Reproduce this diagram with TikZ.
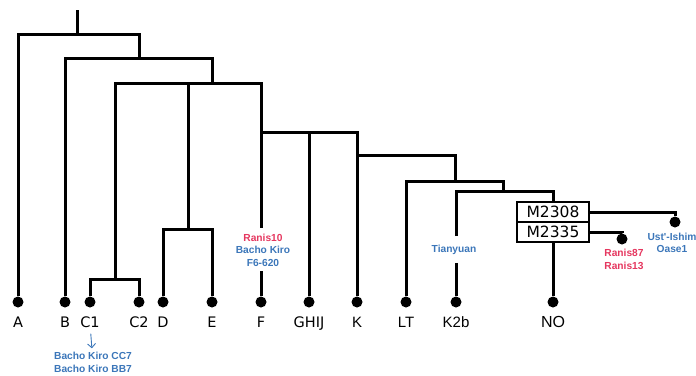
\documentclass[tikz,border=0pt]{standalone}
\usepackage{fontspec}
\setmainfont{DejaVu Sans}
\newfontfamily\arialfont{Liberation Sans}
\usetikzlibrary{positioning,arrows.meta}
\definecolor{ranisred}{HTML}{E5375F}
\definecolor{sampleblue}{HTML}{3B76B9}

\begin{document}
\begin{tikzpicture}[x=1pt,y=-1pt,
  branch/.style={line width=3pt},
  leaf/.style={circle,fill=black,inner sep=0pt,minimum size=11pt},
  hap/.style={font=\fontsize{14.5}{14.5}\selectfont,text height=10pt,text depth=3pt,inner sep=1pt,below=8.5pt of #1},
  haparial/.style={font=\arialfont\fontsize{15}{15}\selectfont,text height=10pt,text depth=3pt,inner sep=1pt,below=8.5pt of #1},
  sample/.style={font=\arialfont\bfseries\fontsize{10.2}{12.5}\selectfont,align=center,inner sep=0pt},
  snp/.style={draw,line width=2.6pt,outer sep=0pt,inner sep=0pt,minimum width=72pt,minimum height=20pt,font=\fontsize{15.5}{15.5}\selectfont}]
\useasboundingbox (0,0) rectangle (696,375);

% junctions of the tree
\coordinate (top)  at (77,10);
\coordinate (n1)   at (77,34);
\coordinate (n2)   at (139,58);
\coordinate (n3)   at (212,83);
\coordinate (nC)   at (115,279);
\coordinate (nDE)  at (188,229);
\coordinate (nF)   at (261,132);
\coordinate (nK)   at (357,155);
\coordinate (nLT)  at (455,181);
\coordinate (nK2b) at (503,191);

% tips
\node[leaf] (A)    at (18,302)  {};
\node[leaf] (B)    at (65,302)  {};
\node[leaf] (C1)   at (90,302)  {};
\node[leaf] (C2)   at (139,302) {};
\node[leaf] (D)    at (163,302) {};
\node[leaf] (E)    at (212,302) {};
\node[leaf] (F)    at (261,302) {};
\node[leaf] (GHIJ) at (309,302) {};
\node[leaf] (K)    at (357,302) {};
\node[leaf] (LT)   at (406,302) {};
\node[leaf] (K2b)  at (456,302) {};
\node[leaf] (NO)   at (553,302) {};
\node[leaf] (ranis) at (622,239) {};
\node[leaf] (oase)  at (675,222) {};

\node[hap=A]    (Alab)    {A};
\node[hap=B]    (Blab)    {B};
\node[hap=C1]   (C1lab)   {C1};
\node[hap=C2]   (C2lab)   {C2};
\node[hap=D]    (Dlab)    {D};
\node[hap=E]    (Elab)    {E};
\node[hap=F]    (Flab)    {F};
\node[hap=GHIJ] (GHIJlab) {GHIJ};
\node[haparial=K]   (Klab)   {K};
\node[haparial=LT]  (LTlab)  {LT};
\node[haparial=K2b] (K2blab) {K2b};
\node[haparial=NO,font=\arialfont\fontsize{16}{16}\selectfont] (NOlab) {NO};

% SNP boxes
\node[snp] (m2308) at (553,212) {M2308};
\node[snp,below=0pt of m2308] (m2335) {M2335};

% ancient samples
\node[sample] (fsamp) at (263,250) {\textcolor{ranisred}{Ranis10}\\\textcolor{sampleblue}{Bacho Kiro}\\\textcolor{sampleblue}{F6-620}};
\node[sample,text=sampleblue] (tian) at (454,250) {Tianyuan};
\node[sample,text=ranisred] (ranislab) at (624,259.5) {Ranis87\\Ranis13};
\node[sample,text=sampleblue] (oaselab) at (672,243) {Ust'-Ishim\\Oase1};
\node[sample,text=sampleblue] (bkC) at (93,362.5) {Bacho Kiro CC7\\Bacho Kiro BB7};
\draw[-{Straight Barb[length=4pt,width=8pt]},sampleblue,line width=0.9pt,shorten <=2pt,shorten >=4pt] (C1lab) -- (bkC);

% branches
\draw[branch] (top) -- (n1);
\draw[branch] (A) |- (n1) -| (n2);
\draw[branch] (B) |- (n2) -| (n3);
\draw[branch] (nC) |- (n3) -| (nF);
\draw[branch] (nDE) -- (nDE |- n3);
\draw[branch] (C1) |- (nC) -| (C2);
\draw[branch] (D) |- (nDE) -| (E);
\draw[branch] (nF) -- ([yshift=6pt]fsamp.north -| nF);
\draw[branch] ([yshift=-5pt]fsamp.south -| F) -- (F);
\draw[branch] (nF) -| (K);
\draw[branch] (GHIJ) -- (GHIJ |- nF);
\draw[branch] (nK) -| (nLT);
\draw[branch] (LT) |- (nLT) -| (nK2b);
\draw[branch] ([yshift=9pt]tian.north -| K2b) |- (nK2b) -| (m2308.north);
\draw[branch] ([yshift=-8pt]tian.south -| K2b) -- (K2b);
\draw[branch] (m2335.south) -- (NO);
\draw[branch] (m2308.east) -| (oase);
\draw[branch] (m2335.east) -| (ranis);
\end{tikzpicture}
\end{document}
